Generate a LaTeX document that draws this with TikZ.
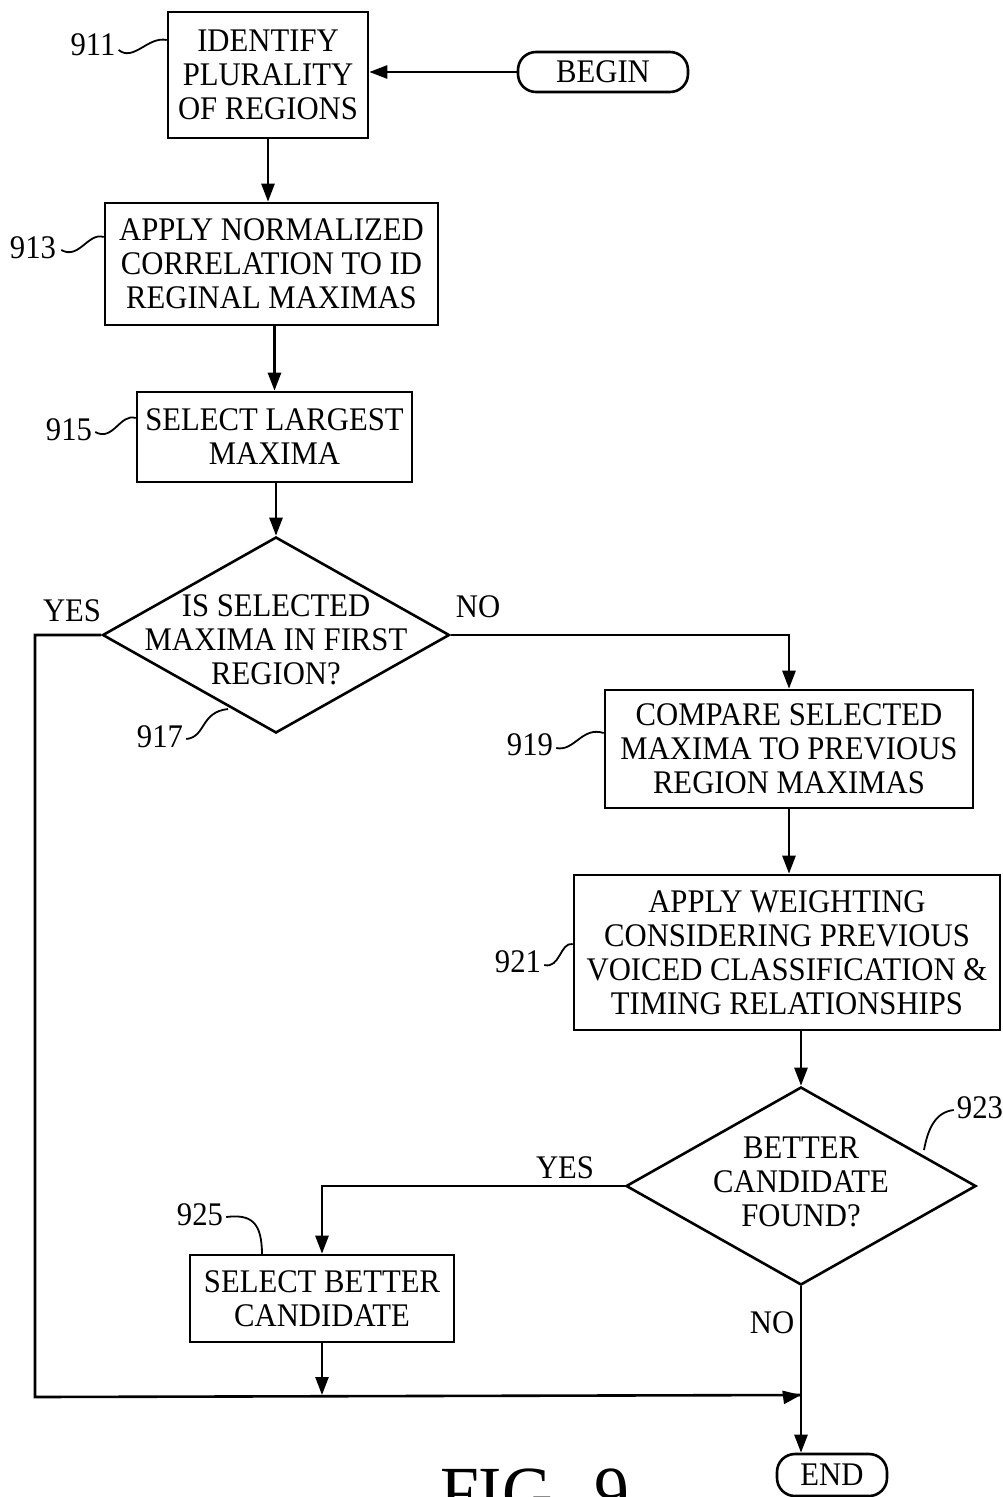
\documentclass[tikz,border=0pt]{standalone}
\usepackage{fontspec}
\setmainfont{Liberation Serif}[FakeStretch=0.93]
\usetikzlibrary{arrows.meta,shapes.geometric}
\begin{document}
\begin{tikzpicture}[x=1pt,y=-1pt,
  every node/.style={font=\fontsize{33}{34}\selectfont},
  stepbox/.style={draw,line width=2.6pt,rectangle,align=center,inner sep=0pt},
  termbox/.style={draw,line width=2.6pt,rounded corners=18pt,align=center,inner sep=0pt},
  decision/.style={draw,line width=2.6pt,diamond,inner sep=0pt},
  arr/.style={line width=2.6pt,-{Triangle[length=18pt,width=13pt]}},
  ln/.style={line width=2.6pt},
  sq/.style={line width=1.8pt},
  lbl/.style={inner sep=0pt}]
\useasboundingbox (0,0) rectangle (1002,1497);

% nodes
\node[stepbox,minimum width=200pt,minimum height=126pt] (b911) at (268,75) {IDENTIFY\\PLURALITY\\OF REGIONS};
\node[termbox,minimum width=170pt,minimum height=40pt] (begin) at (603,72) {BEGIN};
\node[stepbox,minimum width=333pt,minimum height=122pt] (b913) at (271.5,264) {APPLY NORMALIZED\\CORRELATION TO ID\\REGINAL MAXIMAS};
\node[stepbox,minimum width=275pt,minimum height=90pt] (b915) at (274.5,437) {SELECT LARGEST\\MAXIMA};
\node[decision,minimum width=347pt,minimum height=196pt,
  label={[align=center,yshift=-5pt,font=\fontsize{33}{34}\selectfont]center:IS SELECTED\\MAXIMA IN FIRST\\REGION?}] (d917) at (276,635) {};
\node[stepbox,minimum width=368pt,minimum height=118pt] (b919) at (789,749) {COMPARE SELECTED\\MAXIMA TO PREVIOUS\\REGION MAXIMAS};
\node[stepbox,minimum width=426pt,minimum height=155pt] (b921) at (787,952.5) {APPLY WEIGHTING\\CONSIDERING PREVIOUS\\VOICED CLASSIFICATION \&\\TIMING RELATIONSHIPS};
\node[decision,minimum width=350pt,minimum height=198pt,
  label={[align=center,yshift=4pt,font=\fontsize{33}{34}\selectfont]center:BETTER\\CANDIDATE\\FOUND?}] (d923) at (801,1186) {};
\node[stepbox,minimum width=264pt,minimum height=87pt] (b925) at (322,1298.5) {SELECT BETTER\\CANDIDATE};
\node[termbox,minimum width=110pt,minimum height=42pt] (endn) at (832,1475) {END};
\coordinate (join) at (801,1395);
\coordinate (cornerL) at (35,1397);

% connectors
\draw[arr] (begin.west) -- (begin.west -| b911.east);
\draw[arr] (b911.south) -- (b911.south |- b913.north);
\draw[arr] (b913.south -| b915.north) -- (b915.north);
\draw[arr] (b915.south -| d917.north) -- (d917.north);
\draw[arr] (d917.east) -| (b919.north);
\draw[ln] (d917.west) -| (cornerL) -- (join);
\draw[arr] ([xshift=-15pt]cornerL -| join) -- (join);
\draw[arr] (b919.south) -- (b919.south |- b921.north);
\draw[arr] (d923.north |- b921.south) -- (d923.north);
\draw[arr] (d923.west) -| (b925.north);
\draw[arr] (b925.south) -- (b925.south |- join);
\draw[arr] (d923.south) -- (d923.south |- endn.north);

% branch labels
\node[lbl] (yes1) at (72,611) {YES};
\node[lbl] (no1) at (478,607) {NO};
\node[lbl] (yes2) at (565,1168) {YES};
\node[lbl] (no2) at (772,1323) {NO};

% reference numerals
\node[lbl] (n911) at (93,45) {911};
\node[lbl] (n913) at (33,248) {913};
\node[lbl] (n915) at (69,430) {915};
\node[lbl] (n917) at (160,737) {917};
\node[lbl] (n919) at (530,745) {919};
\node[lbl] (n921) at (518,962) {921};
\node[lbl] (n923) at (980,1108) {923};
\node[lbl] (n925) at (200,1215) {925};

\draw[sq] (n911.east) ++(3,5) .. controls +(15,12) and (148,36) .. (b911.west |- 0,40);
\draw[sq] (n913.east) ++(5,2) .. controls +(18,10) and (88,232) .. (b913.west |- 0,237);
\draw[sq] (n915.east) ++(3,2) .. controls +(18,10) and (120,413) .. (b915.west |- 0,418);
\draw[sq] (n917.east) ++(3,2) .. controls +(20,-2) and (200,712) .. (228,709);
\draw[sq] (n919.east) ++(3,3) .. controls +(18,4) and (582,726) .. (b919.west |- 0,733);
\draw[sq] (n921.east) ++(3,3) .. controls +(16,4) and (560,942) .. (b921.west |- 0,944);
\draw[sq] (n923.west) ++(-3,2) .. controls +(-18,2) and (928,1128) .. (924,1150);
\draw[sq] (n925.east) ++(3,2) .. controls +(25,-3) and (262,1222) .. (262,1255);

% title (cut by the lower edge, as in the reference)
\node[lbl,font=\fontsize{75}{80}\selectfont,anchor=base west] (fig) at (440,1518) {FIG.\,\,9};
\end{tikzpicture}
\end{document}
